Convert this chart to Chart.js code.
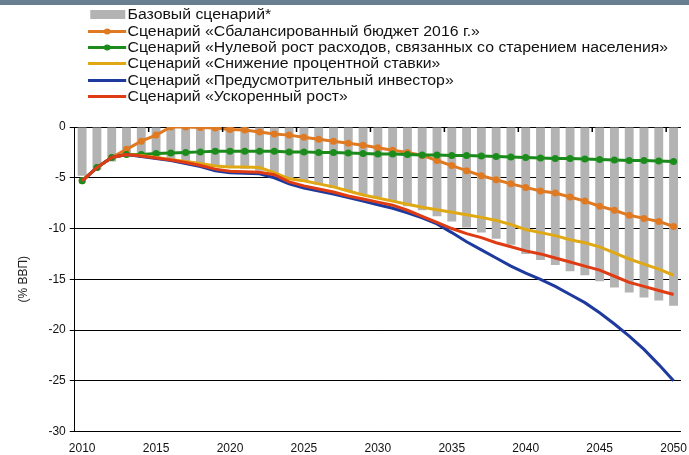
<!DOCTYPE html>
<html>
<head>
<meta charset="utf-8">
<script src="https://cdn.jsdelivr.net/npm/chart.js@4.4.1/dist/chart.umd.min.js"></script>
<style>
body { margin: 0; background: #fff; font-family: "Liberation Sans", Arial, sans-serif; }
#wrap { position: relative; width: 689px; height: 455px; }
#topband { position: absolute; left: 0; top: 0; width: 689px; height: 5px; background: #687f92; }
#legend { position: absolute; left: 88px; top: 6px; font-size: 14px; color: #111; transform: scaleX(1.13); transform-origin: 0 0; }
.item { display: flex; align-items: center; height: 16.4px; white-space: nowrap; }
.item svg { margin-right: 1px; }
</style>
</head>
<body>
<div id="wrap">
  <canvas id="chart" width="689" height="455"></canvas>
  <div id="topband"></div>
  <div id="legend"></div>
</div>
<script>
//categories
const years = [2010, 2011, 2012, 2013, 2014, 2015, 2016, 2017, 2018, 2019,
  2020, 2021, 2022, 2023, 2024, 2025, 2026, 2027, 2028, 2029,
  2030, 2031, 2032, 2033, 2034, 2035, 2036, 2037, 2038, 2039,
  2040, 2041, 2042, 2043, 2044, 2045, 2046, 2047, 2048, 2049, 2050];

//series names (legend order)
const names = [
  "Базовый сценарий*",
  "Сценарий «Сбалансированный бюджет 2016 г.»",
  "Сценарий «Нулевой рост расходов, связанных со старением населения»",
  "Сценарий «Снижение процентной ставки»",
  "Сценарий  «Предусмотрительный инвестор»",
  "Сценарий «Ускоренный рост»"
];

//values, % of GDP
const baseline = [-4.8, -4.2, -3.4, -2.9, -2.9, -3.1, -3.3, -3.5, -3.7, -3.9,
  -4.0, -4.1, -4.3, -4.8, -5.1, -5.4, -5.7, -6.0, -6.3, -6.6,
  -6.9, -7.3, -7.8, -8.2, -8.8, -9.3, -9.9, -10.4, -11.0, -11.6,
  -12.5, -13.1, -13.6, -14.2, -14.6, -15.2, -15.8, -16.3, -16.8, -17.1, -17.6];

const balanced = [-5.3, -4.0, -3.0, -2.2, -1.4, -0.8, 0, 0, -0.05, -0.1,
  -0.25, -0.3, -0.5, -0.7, -0.8, -1.0, -1.2, -1.4, -1.6, -1.8,
  -2.05, -2.3, -2.5, -2.8, -3.3, -3.8, -4.3, -4.8, -5.2, -5.6,
  -5.95, -6.3, -6.5, -6.9, -7.3, -7.8, -8.2, -8.7, -9.0, -9.3, -9.8];

const zeroAging = [-5.3, -4.0, -3.0, -2.7, -2.7, -2.6, -2.55, -2.5, -2.45, -2.4,
  -2.4, -2.4, -2.4, -2.4, -2.45, -2.45, -2.5, -2.5, -2.55, -2.6,
  -2.65, -2.65, -2.7, -2.75, -2.75, -2.8, -2.8, -2.85, -2.9, -2.95,
  -3.0, -3.05, -3.1, -3.1, -3.15, -3.2, -3.25, -3.3, -3.3, -3.35, -3.4];

const lowerRate = [-5.3, -4.0, -3.0, -2.7, -2.8, -3.0, -3.2, -3.4, -3.6, -3.85,
  -3.95, -3.95, -4.0, -4.5, -5.1, -5.3, -5.6, -5.9, -6.3, -6.7,
  -7.0, -7.3, -7.6, -7.9, -8.15, -8.4, -8.65, -8.9, -9.2, -9.6,
  -10.1, -10.4, -10.7, -11.1, -11.4, -11.8, -12.4, -13.0, -13.5, -14.0, -14.6];

const prudent = [-5.3, -4.0, -3.0, -2.7, -2.9, -3.1, -3.3, -3.6, -3.9, -4.3,
  -4.5, -4.55, -4.6, -5.0, -5.6, -6.0, -6.3, -6.6, -6.95, -7.3,
  -7.65, -8.0, -8.45, -8.95, -9.55, -10.4, -11.3, -12.1, -12.9, -13.7,
  -14.4, -15.0, -15.7, -16.5, -17.3, -18.3, -19.4, -20.6, -21.9, -23.4, -25.0];

const fastGrowth = [-5.3, -4.0, -3.0, -2.7, -2.85, -3.05, -3.25, -3.5, -3.8, -4.15,
  -4.35, -4.4, -4.45, -4.7, -5.4, -5.8, -6.1, -6.4, -6.8, -7.1,
  -7.4, -7.7, -8.2, -8.8, -9.4, -10.0, -10.5, -10.9, -11.4, -11.8,
  -12.2, -12.5, -12.9, -13.3, -13.7, -14.1, -14.7, -15.3, -15.7, -16.1, -16.5];

const yTicks = [0, -5, -10, -15, -20, -25, -30];

//colours
const grey = '#b3b3b3';
const orange = '#e07a22';
const green = '#1b8c1b';
const gold = '#e0a812';
const blue = '#1f3a9e';
const red = '#e03c14';

//legend (html)
const legendSymbols = [
  {kind: 'box', color: grey},
  {kind: 'line', color: orange, marker: true},
  {kind: 'line', color: green, marker: true},
  {kind: 'line', color: gold},
  {kind: 'line', color: blue},
  {kind: 'line', color: red}
];
const legend = document.getElementById('legend');
legend.innerHTML = names.map((n, i) => {
  const s = legendSymbols[i];
  let svg;
  if (s.kind === 'box') {
    svg = `<svg width="34" height="12"><rect x="2" y="2" width="31" height="9" fill="${s.color}"/></svg>`;
  } else {
    svg = `<svg width="34" height="12"><line x1="0" y1="6.5" x2="34" y2="6.5" stroke="${s.color}" stroke-width="3"/>` +
      (s.marker ? `<circle cx="17" cy="6.5" r="3" fill="${s.color}"/>` : '') + `</svg>`;
  }
  return `<div class="item">${svg}<span>${n}</span></div>`;
}).join('');

//small tick marks on the zero line, every 5 years
const topTicks = {
  id: 'topTicks',
  afterDatasetsDraw(chart) {
    const {ctx, scales: {x, y}} = chart;
    const y0 = y.getPixelForValue(0);
    ctx.save();
    ctx.strokeStyle = '#000';
    ctx.lineWidth = 1.5;
    for (let i = 5; i < years.length; i += 5) {
      const px = (x.getPixelForValue(i - 1) + x.getPixelForValue(i)) / 2;
      ctx.beginPath();
      ctx.moveTo(px, y0);
      ctx.lineTo(px, y0 + 5);
      ctx.stroke();
    }
    ctx.restore();
  }
};

const lineSet = (label, data, color, order, marker) => ({
  type: 'line',
  label: label,
  data: data,
  borderColor: color,
  backgroundColor: color,
  borderWidth: 3,
  pointRadius: marker ? 3.5 : 0,
  pointStyle: 'circle',
  pointBorderWidth: 0,
  tension: 0,
  order: order
});

new Chart(document.getElementById('chart'), {
  type: 'bar',
  data: {
    labels: years,
    datasets: [
      lineSet(names[5], fastGrowth, red, 1, false),
      lineSet(names[4], prudent, blue, 2, false),
      lineSet(names[3], lowerRate, gold, 3, false),
      lineSet(names[2], zeroAging, green, 4, true),
      lineSet(names[1], balanced, orange, 5, true),
      {
        type: 'bar',
        label: names[0],
        data: baseline,
        backgroundColor: grey,
        barPercentage: 0.6,
        categoryPercentage: 1,
        order: 10
      }
    ]
  },
  options: {
    responsive: false,
    animation: false,
    layout: {padding: {top: 127, right: 7, left: 12, bottom: -3}},
    plugins: {legend: {display: false}, tooltip: {enabled: false}},
    scales: {
      x: {
        offset: true,
        grid: {display: false},
        border: {display: false},
        ticks: {
          autoSkip: false,
          maxRotation: 0,
          padding: 2,
          color: '#111',
          font: {family: '"Liberation Sans", Arial', size: 12},
          callback: (v, i) => (i % 5 === 0 ? years[i] : '')
        }
      },
      y: {
        min: -30,
        max: 0,
        afterBuildTicks: (axis) => { axis.ticks = yTicks.map(v => ({value: v})); },
        ticks: {color: '#111', padding: 4, font: {family: '"Liberation Sans", Arial', size: 12}},
        grid: {color: '#000', lineWidth: 1, tickLength: 5},
        border: {color: '#000', width: 1},
        title: {
          display: true,
          text: '(% ВВП)',
          color: '#222',
          padding: {bottom: 14},
          font: {family: '"Liberation Sans", Arial', size: 12}
        }
      }
    }
  },
  plugins: [topTicks]
});
</script>
</body>
</html>
